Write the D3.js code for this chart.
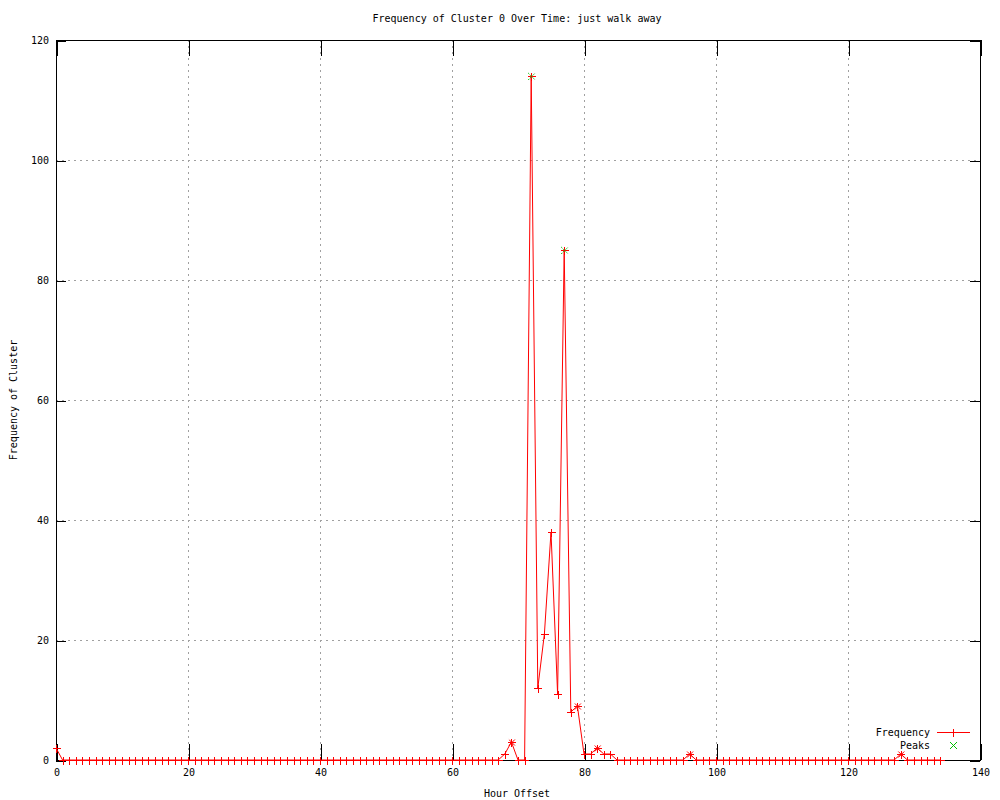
<!DOCTYPE html>
<html><head><meta charset="utf-8">
<script src="https://cdn.jsdelivr.net/npm/d3@7"></script>
<style>body{margin:0;background:#fff}svg{display:block}text{font-family:"DejaVu Sans Mono",monospace;font-size:10px;fill:#000}</style>
</head><body>
<script>
const hours = d3.range(0, 135);
const frequency = [
 2,0,0,0,0,0,0,0,0,0, 0,0,0,0,0,0,0,0,0,0,
 0,0,0,0,0,0,0,0,0,0, 0,0,0,0,0,0,0,0,0,0,
 0,0,0,0,0,0,0,0,0,0, 0,0,0,0,0,0,0,0,0,0,
 0,0,0,0,0,0,0,0,1,3, 0,0,114,12,21,38,11,85,8,9,
 1,1,2,1,1,0,0,0,0,0, 0,0,0,0,0,0,1,0,0,0,
 0,0,0,0,0,0,0,0,0,0, 0,0,0,0,0,0,0,0,0,0,
 0,0,0,0,0,0,0,0,1,0, 0,0,0,0,0
];
const peakHours = [72, 77];
const minorPeakHours = [69, 79, 82, 96, 128];
const xTicks = [0,20,40,60,80,100,120,140];
const yTicks = [0,20,40,60,80,100,120];
const title = "Frequency of Cluster 0 Over Time: just walk away";

const W=1000,H=800, L=56,R=980,T=40,B=760;
const svg=d3.select("body").append("svg").attr("width",W).attr("height",H);
const x=d3.scaleLinear().domain([0,140]).range([L,R]);
const y=d3.scaleLinear().domain([0,120]).range([B,T]);

// grid
const g=svg.append("g").attr("shape-rendering","crispEdges");
g.selectAll(".gx").data(xTicks.filter(d=>d>0&&d<140)).join("line")
 .attr("x1",d=>x(d)+0.5).attr("x2",d=>x(d)+0.5).attr("y1",T).attr("y2",B)
 .attr("stroke","#a0a0a0").attr("stroke-dasharray","2,4");
g.selectAll(".gy").data(yTicks.filter(d=>d>0&&d<120)).join("line")
 .attr("y1",d=>y(d)+0.5).attr("y2",d=>y(d)+0.5).attr("x1",L).attr("x2",R)
 .attr("stroke","#a0a0a0").attr("stroke-dasharray","2,4");

// axes with inward ticks on all sides
const ax=(gen,tr)=>{const a=svg.append("g").attr("transform",tr).attr("shape-rendering","crispEdges").call(gen);
 a.select(".domain").remove(); a.selectAll("line").attr("stroke","#000"); return a;};
const xb=ax(d3.axisBottom(x).tickValues(xTicks).tickSize(-16).tickPadding(0).tickFormat(d3.format("d")),`translate(0.5,${B})`);
xb.selectAll("text").attr("y",9).attr("dy","0.71em").style("font-size","10px").style("font-family","DejaVu Sans Mono");
ax(d3.axisTop(x).tickValues(xTicks).tickSize(-16).tickFormat(""),`translate(0.5,${T})`);
const yl=ax(d3.axisLeft(y).tickValues(yTicks).tickSize(-10).tickFormat(d3.format("d")),`translate(${L},0.5)`);
yl.selectAll("text").attr("x",-7).style("font-size","10px").style("font-family","DejaVu Sans Mono");
ax(d3.axisRight(y).tickValues(yTicks).tickSize(-10).tickFormat(""),`translate(${R},0.5)`);
svg.append("rect").attr("x",L+0.5).attr("y",T+0.5).attr("width",R-L).attr("height",B-T)
 .attr("fill","none").attr("stroke","#000").attr("shape-rendering","crispEdges");

// data line
const pts=hours.map((h,i)=>[h,frequency[i]]);
svg.append("path").datum(pts).attr("fill","none").attr("stroke","#ff0000").attr("stroke-width",1)
 .attr("d",d3.line().x(d=>x(d[0])).y(d=>y(d[1])));
const cross=(s)=>`M${-s},${-s}L${s},${s}M${-s},${s}L${s},${-s}`;
svg.append("g").selectAll("path").data(pts).join("path")
 .attr("transform",d=>`translate(${x(d[0])+0.5},${y(d[1])+0.5})`)
 .attr("d","M-4,0H4M0,-4V4").attr("stroke","#ff0000").attr("shape-rendering","crispEdges");
svg.append("g").selectAll("path").data(minorPeakHours).join("path")
 .attr("transform",d=>`translate(${x(d)+0.5},${y(frequency[d])+0.5})`)
 .attr("d",cross(3)).attr("stroke","#ff0000").attr("fill","none");
svg.append("g").selectAll("path").data(peakHours).join("path")
 .attr("transform",d=>`translate(${x(d)+0.5},${y(frequency[d])+0.5})`)
 .attr("d",cross(3.5)).attr("stroke","#00c000").attr("fill","none").attr("stroke-dasharray","1.5,1");

// legend
svg.append("text").attr("x",930).attr("y",736).attr("text-anchor","end").text("Frequency");
svg.append("line").attr("x1",937).attr("x2",970).attr("y1",732.5).attr("y2",732.5).attr("stroke","#ff0000").attr("shape-rendering","crispEdges");
svg.append("path").attr("transform","translate(953.5,732.5)").attr("d","M-4,0H4M0,-4V4").attr("stroke","#ff0000").attr("shape-rendering","crispEdges");
svg.append("text").attr("x",930).attr("y",749).attr("text-anchor","end").text("Peaks");
svg.append("path").attr("transform","translate(953.5,745.5)").attr("d",cross(3.5)).attr("stroke","#00c000").attr("fill","none");

// titles
svg.append("text").attr("x",517).attr("y",22).attr("text-anchor","middle").text(title);
svg.append("text").attr("x",517).attr("y",797).attr("text-anchor","middle").text("Hour Offset");
svg.append("text").attr("transform","translate(17,400) rotate(-90)").attr("text-anchor","middle").text("Frequency of Cluster");
</script>
</body></html>
